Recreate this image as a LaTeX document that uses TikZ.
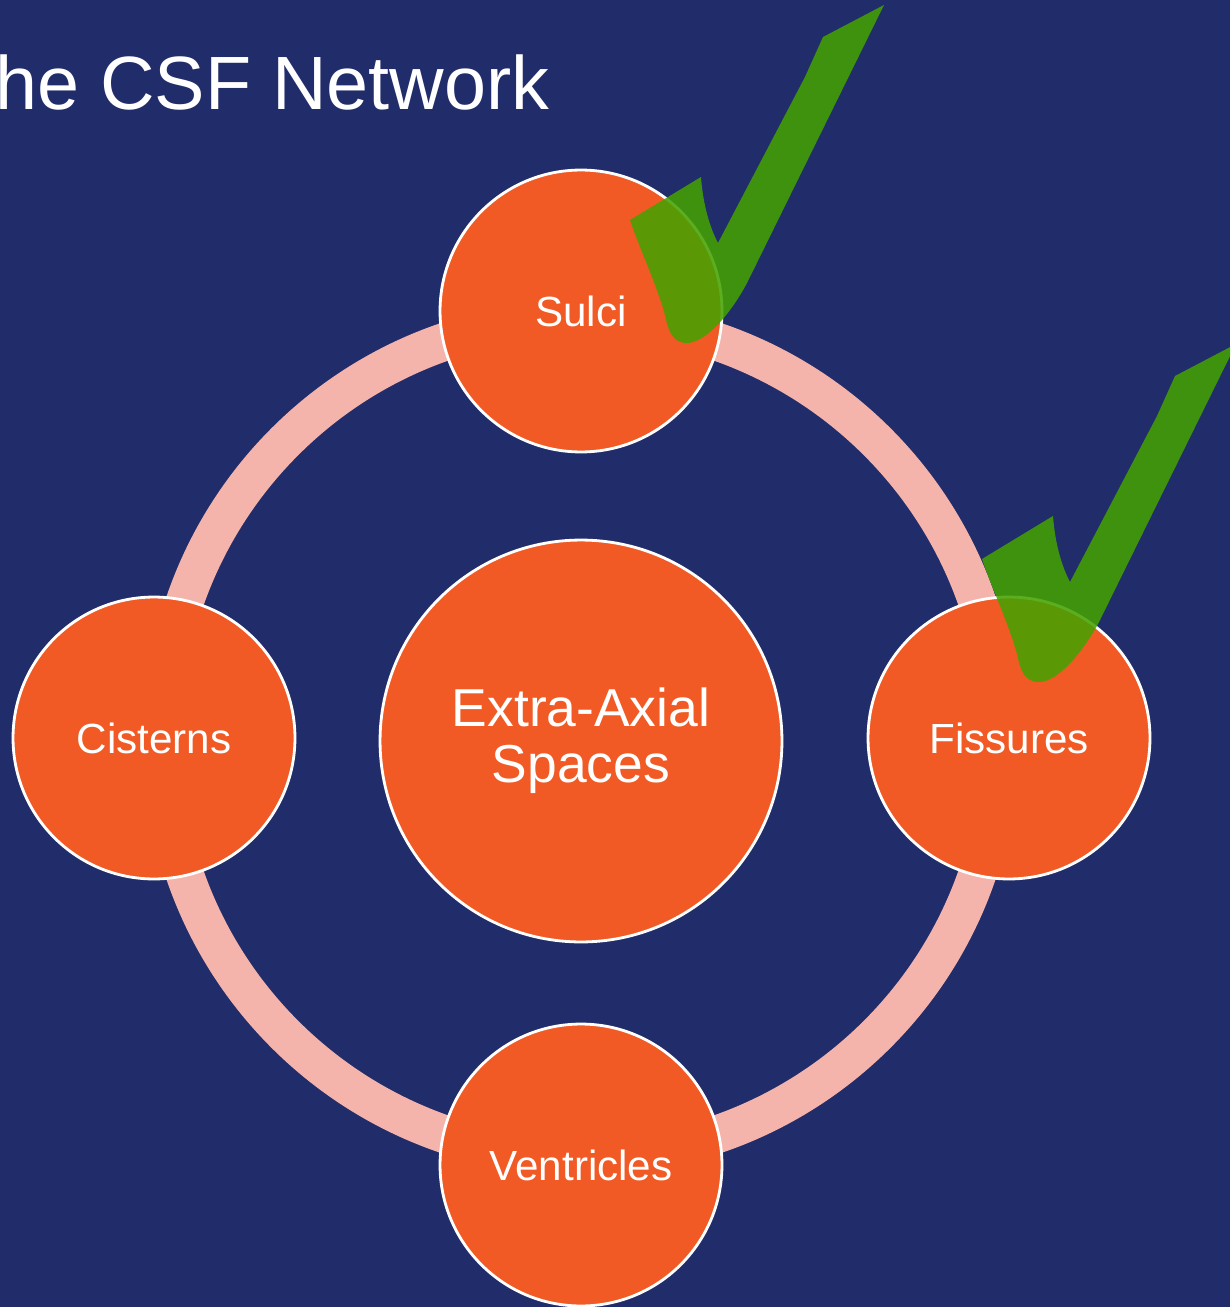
\documentclass[tikz,border=0pt]{standalone}
\usepackage{fontspec}
\setmainfont{Liberation Sans}
\definecolor{navy}{HTML}{212D6A}
\definecolor{orng}{HTML}{F15A24}
\definecolor{ringc}{HTML}{F5B4AB}
\definecolor{chk}{HTML}{44A201}
\tikzset{
  px/.style={x=0.02cm,y=-0.02cm},
  bubble/.style={circle,fill=orng,draw=white,line width=1.6pt,text=white,inner sep=0pt,
     minimum size=5.64cm,font=\fontsize{24}{28}\selectfont},
  bigbubble/.style={bubble,minimum size=8.04cm,align=center,font=\fontsize{30.4}{31.8}\selectfont},
  ringline/.style={draw=ringc,line width=21.6pt},
  checkmark/.style={fill=chk,fill opacity=0.87,draw=none}
}
\begin{document}
\begin{tikzpicture}[px]
\useasboundingbox (0,0) rectangle (1230,1307);
\clip (0,0) rectangle (1230,1307);
\fill[navy] (0,0) rectangle (1230,1307);
\node[anchor=base west,inner sep=0pt,text=white,font=\fontsize{43}{50}\selectfont] (title) at (-5,110) {he CSF Network};
\coordinate (c) at (581,738);
\draw[ringline] (c) circle[radius=8.38cm];
\node[bigbubble] (ctr) at (581,741) {Extra-Axial\\Spaces};
\node[bubble] (sulci) at (581,311) {Sulci};
\node[bubble] (cist) at (154,738) {Cisterns};
\node[bubble] (fiss) at (1009,738) {Fissures};
\node[bubble] (vent) at (581,1165) {Ventricles};
\foreach \dx/\dy in {0/0,352/339}{
  \begin{scope}[shift={(\dx,\dy)}]
  \path[checkmark] (630,220) -- (701,177) .. controls (703,205) and (710,228) .. (718,243)
    -- (805,77) -- (823,37) -- (884,5) -- (747,283)
    .. controls (730,315) and (705,343) .. (687,343)
    .. controls (672,343) and (668,330) .. (665,315)
    .. controls (655,280) and (640,250) .. (630,220) -- cycle;
  \end{scope}
}
\end{tikzpicture}
\end{document}
